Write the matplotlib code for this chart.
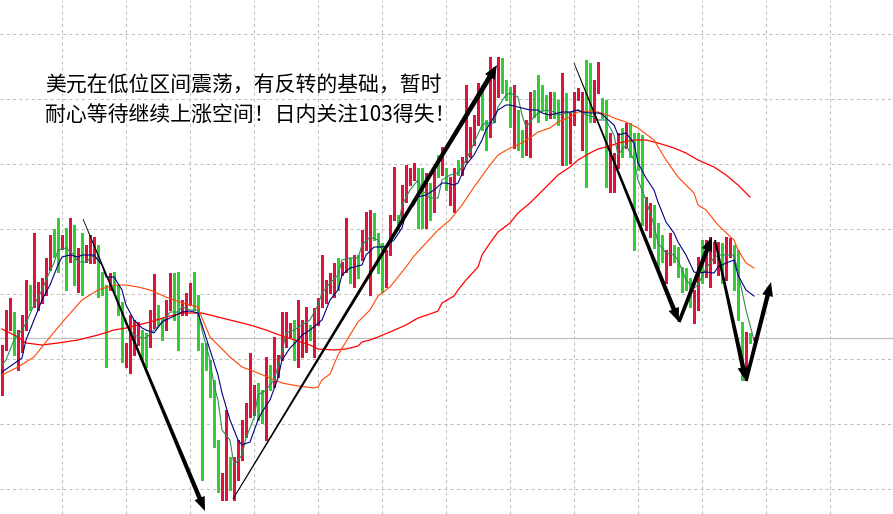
import numpy as np
import matplotlib
matplotlib.use('Agg')
from matplotlib import pyplot as plt
from matplotlib.patches import Polygon

plt.rcParams['font.family'] = ['Noto Sans CJK SC', 'DejaVu Sans']

# candle data (one bar per hour, prices)
opens = [102.12, 102.55, 102.75, 102.83, 102.40, 102.58, 102.75, 103.11, 102.98, 102.93,
         103.00, 103.08, 103.33, 103.57, 103.55, 103.53, 103.61, 103.42, 103.53, 103.18,
         103.44, 103.42, 103.42, 103.40, 103.48, 103.22, 103.10, 103.20, 103.22, 103.10,
         102.92, 102.40, 102.48, 102.48, 102.62, 102.62, 102.59, 102.55, 102.83, 102.83,
         102.77, 102.75, 102.97, 103.15, 102.95, 102.90, 102.90, 102.98, 103.15, 103.02,
         102.55, 102.55, 102.37, 102.18, 101.57, 101.10, 101.22, 101.22, 101.23, 101.23,
         101.43, 101.72, 101.90, 101.88, 102.08, 102.03, 101.92, 102.25, 102.25, 102.27,
         102.43, 102.57, 102.68, 102.72, 102.55, 102.52, 102.53, 102.70, 102.67, 102.78,
         102.95, 103.00, 103.12, 103.13, 103.34, 103.30, 103.32, 103.30, 103.27, 103.40,
         103.47, 103.70, 103.68, 103.77, 103.65, 103.48, 103.20, 103.47, 103.83, 103.83,
         103.82, 104.10, 104.17, 104.23, 104.28, 104.28, 103.80, 104.10, 103.92, 104.30,
         104.27, 104.27, 104.13, 104.13, 104.34, 104.30, 104.40, 104.47, 104.57, 104.77,
         105.13, 104.77, 104.75, 104.80, 105.23, 105.28, 105.13, 105.02, 104.83, 104.85,
         104.67, 104.53, 104.73, 105.08, 105.10, 105.10, 104.95, 104.83, 105.03, 104.92,
         105.00, 104.88, 104.50, 104.83, 105.03, 104.88, 104.87, 104.87, 104.82, 105.08,
         105.02, 104.82, 104.22, 104.22, 104.33, 104.52, 104.53, 104.70, 104.63, 104.63,
         104.60, 103.72, 103.82, 103.75, 103.55, 103.55, 103.30, 103.42, 103.48, 103.50,
         103.28, 103.28, 103.15, 102.88, 102.93, 103.57, 103.27, 103.17, 103.40, 103.32,
         103.48, 103.28, 103.47, 103.48, 103.47, 102.75, 102.30, 102.65, 102.61]
highs = [102.55, 102.90, 103.02, 102.88, 102.70, 102.85, 103.20, 103.15, 103.67, 103.18,
         103.22, 103.42, 103.65, 103.71, 103.82, 103.65, 103.72, 103.82, 103.75, 103.52,
         103.67, 103.55, 103.65, 103.63, 103.55, 103.28, 103.15, 103.27, 103.28, 103.15,
         102.98, 102.57, 102.85, 102.80, 102.78, 102.70, 102.67, 102.90, 103.26, 102.95,
         102.82, 103.00, 103.27, 103.27, 103.28, 103.00, 103.07, 103.17, 103.28, 103.05,
         102.57, 102.57, 102.40, 102.20, 101.60, 101.27, 101.90, 101.43, 101.43, 101.60,
         101.80, 101.97, 102.47, 102.15, 102.17, 102.10, 102.43, 102.35, 102.63, 102.45,
         102.88, 102.88, 102.77, 102.80, 103.00, 102.80, 102.93, 102.75, 102.92, 103.02,
         103.45, 103.20, 103.27, 103.37, 103.42, 103.38, 103.82, 103.42, 103.45, 103.45,
         103.70, 103.88, 103.90, 103.87, 103.67, 103.57, 103.50, 103.85, 104.33, 103.85,
         104.15, 104.35, 104.32, 104.37, 104.32, 104.32, 104.27, 104.17, 104.30, 104.45,
         104.53, 104.32, 104.23, 104.32, 104.40, 104.43, 105.15, 104.73, 104.85, 105.17,
         105.15, 104.80, 105.43, 105.33, 105.43, 105.42, 105.20, 105.13, 105.15, 104.90,
         104.70, 104.80, 105.08, 105.10, 105.25, 105.15, 105.05, 105.08, 105.08, 105.00,
         105.27, 105.07, 104.87, 105.08, 105.12, 105.08, 105.40, 105.37, 105.20, 105.38,
         105.02, 105.00, 104.67, 104.47, 104.67, 104.72, 104.77, 104.77, 104.67, 104.67,
         104.65, 104.03, 103.97, 103.95, 103.77, 103.65, 103.50, 103.67, 103.55, 103.53,
         103.33, 103.32, 103.22, 103.10, 103.43, 103.60, 103.60, 103.63, 103.58, 103.58,
         103.57, 103.63, 103.62, 103.55, 103.50, 102.78, 102.68, 102.67, 102.63]
lows = [102.05, 102.50, 102.70, 102.45, 102.30, 102.48, 102.70, 102.90, 102.93, 102.90,
        102.97, 103.05, 103.30, 103.43, 103.28, 103.51, 103.10, 103.38, 103.15, 103.08,
        103.05, 103.38, 103.37, 103.37, 103.03, 103.05, 102.33, 103.10, 103.08, 102.85,
        102.38, 102.33, 102.27, 102.45, 102.55, 102.40, 102.33, 102.53, 102.72, 102.75,
        102.60, 102.70, 102.90, 102.80, 102.50, 102.85, 102.85, 102.95, 102.90, 102.50,
        101.20, 102.30, 102.03, 101.53, 101.08, 101.00, 101.00, 101.10, 101.00, 101.20,
        101.40, 101.63, 101.83, 101.85, 101.80, 101.77, 101.60, 102.10, 102.13, 102.23,
        102.40, 102.53, 102.63, 102.40, 102.33, 102.43, 102.48, 102.60, 102.43, 102.75,
        102.93, 102.97, 103.07, 103.03, 103.10, 103.25, 103.28, 103.17, 103.13, 103.22,
        103.40, 103.50, 103.05, 103.60, 103.27, 103.08, 103.13, 103.45, 103.80, 103.70,
        103.80, 103.98, 104.15, 104.20, 103.72, 103.72, 103.72, 103.80, 103.88, 104.23,
        104.25, 104.10, 103.95, 103.88, 104.25, 104.25, 104.38, 104.43, 104.55, 104.75,
        104.70, 104.50, 104.63, 104.78, 105.03, 105.07, 105.00, 104.73, 104.52, 104.50,
        104.43, 104.45, 104.43, 104.83, 104.78, 104.90, 104.80, 104.82, 104.82, 104.75,
        104.35, 104.35, 104.37, 104.75, 105.00, 104.50, 104.13, 104.78, 104.78, 105.07,
        104.82, 104.13, 104.08, 104.08, 104.32, 104.43, 104.52, 104.43, 103.50, 104.30,
        103.75, 103.70, 103.63, 103.52, 103.32, 103.38, 103.17, 103.35, 103.38, 103.23,
        103.08, 103.10, 102.93, 102.77, 102.90, 103.17, 103.23, 103.13, 103.37, 103.25,
        103.17, 103.20, 103.43, 103.10, 102.80, 102.20, 102.27, 102.57, 102.60]
closes = [102.52, 102.87, 102.95, 102.50, 102.65, 102.75, 103.15, 102.94, 103.55, 102.99,
          103.16, 103.38, 103.56, 103.54, 103.47, 103.60, 103.43, 103.53, 103.18, 103.42,
          103.20, 103.46, 103.53, 103.48, 103.07, 103.08, 102.48, 103.23, 103.12, 102.90,
          102.41, 102.48, 102.82, 102.75, 102.70, 102.43, 102.35, 102.85, 102.90, 102.78,
          102.65, 102.93, 103.15, 103.02, 102.52, 102.93, 102.98, 103.15, 103.00, 102.52,
          101.22, 102.33, 102.07, 101.57, 101.10, 101.22, 101.90, 101.18, 101.33, 101.55,
          101.73, 101.88, 102.25, 102.07, 102.00, 101.87, 102.32, 102.23, 102.47, 102.37,
          102.57, 102.80, 102.72, 102.47, 102.98, 102.70, 102.78, 102.68, 102.85, 102.98,
          103.32, 103.15, 103.18, 103.32, 103.31, 103.32, 103.78, 103.25, 103.43, 103.28,
          103.67, 103.78, 103.83, 103.67, 103.28, 103.18, 103.47, 103.83, 104.28, 103.72,
          104.13, 104.17, 104.28, 104.33, 104.25, 103.80, 103.88, 104.00, 104.27, 104.25,
          104.42, 104.12, 104.17, 104.28, 104.30, 104.42, 104.65, 104.63, 104.77, 105.05,
          104.75, 104.74, 105.17, 105.28, 105.30, 105.12, 105.03, 104.75, 105.08, 104.72,
          104.55, 104.73, 105.03, 104.83, 104.82, 104.95, 104.85, 105.05, 104.83, 104.83,
          105.07, 104.50, 104.83, 105.05, 105.08, 104.89, 104.22, 104.80, 105.15, 105.13,
          104.88, 104.20, 104.65, 104.33, 104.52, 104.47, 104.68, 104.50, 103.52, 104.60,
          103.77, 103.85, 103.85, 103.53, 103.33, 103.42, 103.42, 103.57, 103.45, 103.28,
          103.18, 103.17, 102.97, 103.05, 103.33, 103.20, 103.40, 103.60, 103.50, 103.55,
          103.23, 103.45, 103.55, 103.37, 102.83, 102.23, 102.67, 102.62, 102.62]

# moving averages, read at selected bars
ma_navy_idx = [0, 5, 6, 8, 10, 12, 14, 15, 17, 19, 20, 23, 25, 26, 28, 30, 31, 33, 35, 36, 38, 40,
               42, 45, 47, 49, 50, 52, 54, 55, 57, 59, 60, 62, 64, 65, 67, 69, 70, 72, 74, 75, 77,
               80, 82, 84, 85, 87, 90, 91, 93, 95, 96, 98, 100, 101, 103, 104, 106, 108, 110, 111,
               113, 114, 116, 118, 120, 121, 123, 124, 126, 127, 129, 130, 132, 134, 135, 137, 139,
               140, 142, 144, 145, 147, 149, 150, 151, 153, 154, 156, 158, 159, 161, 163, 164, 166,
               168, 169, 171, 173, 174, 176, 178, 179, 181, 183, 184, 186, 188]
ma_navy = [102.28, 102.42, 102.60, 102.80, 103.00, 103.15, 103.35, 103.43, 103.45, 103.43, 103.45,
           103.45, 103.35, 103.23, 103.23, 103.10, 102.95, 102.80, 102.72, 102.70, 102.67, 102.78,
           102.82, 102.88, 102.89, 102.87, 102.75, 102.50, 102.25, 102.07, 101.80, 101.60, 101.55,
           101.58, 101.80, 101.88, 102.00, 102.22, 102.40, 102.52, 102.60, 102.65, 102.70, 102.80,
           103.00, 103.10, 103.25, 103.32, 103.35, 103.45, 103.53, 103.53, 103.54, 103.60, 103.72,
           103.87, 103.95, 104.03, 104.05, 104.10, 104.17, 104.17, 104.15, 104.17, 104.35, 104.45,
           104.60, 104.70, 104.83, 104.90, 104.95, 104.95, 104.93, 104.92, 104.90, 104.90, 104.87,
           104.85, 104.87, 104.88, 104.88, 104.90, 104.88, 104.87, 104.87, 104.86, 104.82, 104.75,
           104.65, 104.67, 104.57, 104.37, 104.22, 104.10, 103.98, 103.78, 103.67, 103.58, 103.45,
           103.28, 103.27, 103.28, 103.27, 103.33, 103.37, 103.40, 103.25, 103.10, 103.04]
ma_green_idx = [0, 1, 3, 5, 6, 8, 10, 11, 13, 14, 16, 18, 19, 21, 23, 25, 26, 28, 30, 31, 33, 35,
                36, 38, 40, 42, 44, 45, 47, 49, 50, 52, 53, 54, 55, 57, 58, 60, 61, 63, 64, 66, 68,
                70, 71, 73, 75, 77, 79, 80, 82, 84, 85, 87, 89, 90, 92, 94, 95, 97, 99, 100, 102,
                104, 105, 107, 109, 110, 112, 114, 116, 118, 120, 121, 123, 124, 126, 127, 129, 130,
                131, 133, 134, 136, 138, 139, 141, 143, 144, 146, 148, 149, 151, 153, 154, 156, 158,
                159, 161, 163, 164, 166, 168, 169, 171, 173, 174, 176, 178, 179, 181, 183, 184, 186,
                188]
ma_green = [102.35, 102.40, 102.60, 102.70, 102.77, 102.95, 103.10, 103.20, 103.37, 103.50, 103.52,
            103.45, 103.38, 103.38, 103.45, 103.35, 103.25, 103.10, 102.88, 102.75, 102.65, 102.62,
            102.62, 102.70, 102.77, 102.88, 102.88, 102.93, 102.90, 102.90, 102.70, 102.40, 102.15,
            102.00, 101.70, 101.60, 101.35, 101.45, 101.62, 101.82, 102.05, 102.10, 102.20, 102.48,
            102.67, 102.70, 102.75, 102.80, 102.95, 103.07, 103.17, 103.25, 103.40, 103.42, 103.42,
            103.55, 103.63, 103.60, 103.50, 103.57, 103.70, 103.95, 104.10, 104.20, 104.10, 104.02,
            104.02, 104.20, 104.25, 104.27, 104.40, 104.57, 104.75, 104.77, 104.77, 104.93, 105.05,
            105.07, 105.03, 104.85, 104.73, 104.83, 104.87, 104.90, 104.88, 104.85, 104.87, 104.88,
            104.90, 104.85, 104.83, 104.80, 104.80, 104.65, 104.45, 104.55, 104.40, 104.20, 104.00,
            103.75, 103.57, 103.47, 103.45, 103.40, 103.20, 103.12, 103.15, 103.32, 103.42, 103.45,
            103.45, 103.45, 103.28, 102.90, 102.60]
ma_orange_idx = [0, 4, 8, 12, 16, 20, 24, 28, 31, 34, 37, 41, 45, 49, 50, 52, 54, 57, 60, 64, 67,
                 70, 74, 78, 79, 80, 82, 84, 87, 89, 92, 94, 97, 101, 103, 106, 109, 112, 115, 118,
                 122, 124, 127, 129, 132, 134, 137, 139, 142, 144, 147, 149, 152, 153, 156, 159, 163,
                 166, 169, 173, 174, 176, 179, 183, 184, 186, 188]
ma_orange = [102.25, 102.33, 102.43, 102.63, 102.82, 103.00, 103.10, 103.15, 103.15, 103.13, 103.10,
             103.03, 102.97, 102.93, 102.82, 102.63, 102.55, 102.43, 102.33, 102.27, 102.22, 102.17,
             102.14, 102.12, 102.13, 102.20, 102.26, 102.45, 102.65, 102.78, 102.90, 103.04, 103.13,
             103.33, 103.44, 103.57, 103.70, 103.80, 103.95, 104.13, 104.35, 104.45, 104.52, 104.55,
             104.62, 104.68, 104.72, 104.78, 104.83, 104.88, 104.89, 104.88, 104.84, 104.82, 104.78,
             104.72, 104.60, 104.40, 104.23, 104.07, 103.95, 103.90, 103.75, 103.60, 103.50, 103.37,
             103.32]
ma_red_idx = [0, 4, 6, 10, 14, 19, 24, 28, 31, 34, 37, 41, 45, 50, 52, 57, 62, 66, 70, 74, 77, 79,
              83, 86, 89, 90, 92, 94, 97, 101, 104, 107, 109, 110, 113, 114, 116, 119, 120, 122, 124,
              127, 129, 132, 134, 137, 139, 142, 144, 147, 149, 152, 154, 158, 161, 164, 168, 171,
              174, 178, 181, 184, 187]
ma_red = [102.71, 102.63, 102.57, 102.55, 102.57, 102.60, 102.65, 102.70, 102.72, 102.75, 102.78,
          102.83, 102.87, 102.87, 102.85, 102.80, 102.75, 102.70, 102.64, 102.59, 102.55, 102.51,
          102.50, 102.51, 102.54, 102.58, 102.60, 102.63, 102.68, 102.75, 102.82, 102.86, 102.89,
          102.97, 103.04, 103.10, 103.20, 103.33, 103.45, 103.57, 103.68, 103.77, 103.87, 103.97,
          104.05, 104.17, 104.25, 104.33, 104.40, 104.47, 104.51, 104.54, 104.57, 104.60, 104.60,
          104.57, 104.52, 104.47, 104.40, 104.33, 104.25, 104.15, 104.03]

# hand-drawn arrows: (start bar, start price, end bar, end price, start width, end width)
arrows = [
    (20.25, 103.81, 50.75, 100.89, 0.8, 4.5),
    (57.75, 101.01, 123.75, 105.35, 1.0, 5.0),
    (143.0, 105.37, 169.25, 102.78, 0.8, 4.5),
    (169.25, 102.78, 177.5, 103.63, 3.5, 4.5),
    (178.25, 103.60, 186.0, 102.19, 2.0, 4.5),
    (186.0, 102.19, 192.25, 103.18, 3.5, 4.5),
]

comment = ['美元在低位区间震荡，有反转的基础，暂时', '耐心等待继续上涨空间！日内关注103得失！']

fig = plt.figure(figsize=(8.93, 5.14), dpi=100)
ax = fig.add_axes([0, 0, 1, 1])
ax.set_xlim(-0.5, 222.75)
ax.set_ylim(100.86, 106.0)

ax.set_xticks(np.arange(15, 220, 16))
ax.set_yticks(105.66 - 0.65 * np.arange(8))
ax.grid(True, color='#c0c0c0', linestyle=(0, (3, 3)), linewidth=0.75)
ax.tick_params(length=0, labelbottom=False, labelleft=False)
for s in ax.spines.values():
    s.set_visible(False)
ax.axhline(closes[-1], color='#c0c0c0', lw=0.9, zorder=1)

o = np.array(opens)
c = np.array(closes)
idx = np.arange(len(o))
up = c >= o
col = np.where(up, '#dc143c', '#32cd32')
ax.vlines(idx, lows, highs, colors=col, lw=0.75, zorder=2, antialiased=False)
body = np.maximum(np.abs(c - o), 0.012)
ax.bar(idx, body, bottom=np.minimum(o, c), width=0.75, color=col, lw=0, zorder=3,
       antialiased=False)

ax.plot(ma_red_idx, ma_red, color='#ff0000', lw=0.9, zorder=4)
ax.plot(ma_orange_idx, ma_orange, color='#ff4500', lw=0.8, zorder=4)
ax.plot(ma_green_idx, ma_green, color='#2e8b57', lw=0.8, zorder=5)
ax.plot(ma_navy_idx, ma_navy, color='#000080', lw=0.8, zorder=5)


def draw_arrow(x0, y0, x1, y1, w0, w1, head_len=14, head_w=11):
    t = ax.transData
    p0 = t.transform((x0, y0))
    p1 = t.transform((x1, y1))
    d = p1 - p0
    u = d / np.hypot(*d)
    n = np.array([-u[1], u[0]])
    base = p1 - u * head_len
    pts = [p0 + n * w0 / 2, base + n * w1 / 2, base + n * head_w / 2, p1,
           base - n * head_w / 2, base - n * w1 / 2, p0 - n * w0 / 2]
    pts = t.inverted().transform(pts)
    ax.add_patch(Polygon(pts, closed=True, facecolor='black', edgecolor='none', zorder=6))


for a in arrows:
    draw_arrow(*a)

fig.text(45 / 893, 1 - 86 / 514, comment[0], fontsize=15, va='center', ha='left', color='black')
fig.text(45 / 893, 1 - 115.5 / 514, comment[1], fontsize=15, va='center', ha='left', color='black')

plt.savefig('out.png', dpi=100)
